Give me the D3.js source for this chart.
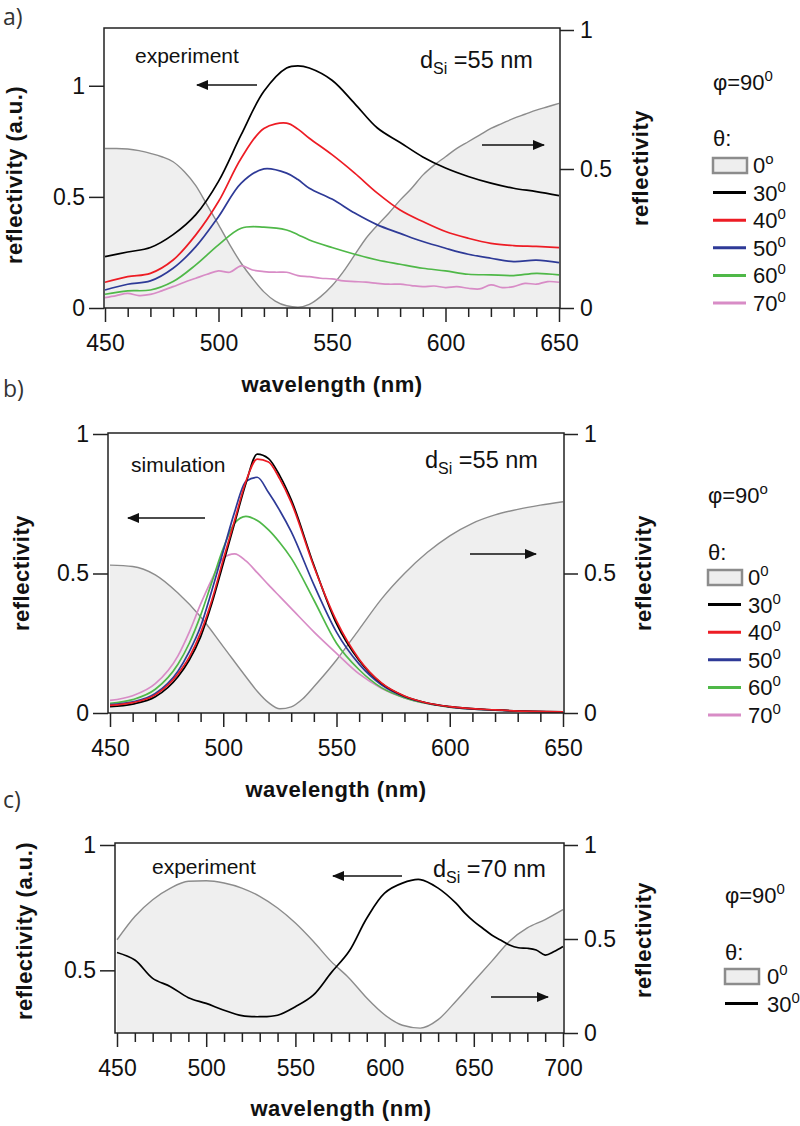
<!DOCTYPE html>
<html>
<head>
<meta charset="utf-8">
<script src="https://cdn.jsdelivr.net/npm/d3@7"></script>
<style>
  body { margin: 0; background: #fff; }
  svg text { font-family: "Liberation Sans", Arial, sans-serif; fill: #111; }
  .tick text { font-size: 23px; }
  .title { font-weight: bold; font-size: 22px; letter-spacing: 0.5px; }
  .plabel { font-family: "Open Sans", sans-serif !important; font-size: 23px; fill: #333 !important; }
</style>
</head>
<body>
<svg id="fig" width="800" height="1126"></svg>
<script>
// ---------- data ----------
var angleLabels = ["30", "40", "50", "60", "70"];
var angleColors = ["#000000", "#ed1c24", "#2e3a97", "#4fb848", "#d88cc6"];

// panel a) experiment, d_Si = 55 nm
var wlA = [450,460,470,480,490,500,510,520,530,535,540,550,560,570,580,590,600,610,620,630,640,650];
var expA30 = [0.231,0.252,0.272,0.33,0.42,0.57,0.78,0.975,1.08,1.09,1.08,1.025,0.92,0.81,0.745,0.68,0.63,0.592,0.562,0.539,0.524,0.506];
var expA40 = [0.116,0.141,0.156,0.216,0.329,0.479,0.674,0.808,0.832,0.805,0.764,0.69,0.607,0.517,0.441,0.389,0.344,0.314,0.291,0.281,0.277,0.272];
var expA50 = [0.081,0.107,0.122,0.179,0.276,0.411,0.562,0.626,0.607,0.578,0.539,0.49,0.427,0.374,0.336,0.299,0.269,0.242,0.224,0.209,0.215,0.204];
var expA60 = [0.062,0.077,0.081,0.119,0.194,0.284,0.359,0.364,0.351,0.33,0.306,0.272,0.242,0.216,0.197,0.179,0.167,0.152,0.149,0.146,0.156,0.149];
var wlA5 = [450,455,460,465,470,475,480,485,490,495,500,505,510,515,520,525,530,535,540,545,550,
            555,560,565,570,575,580,585,590,595,600,605,610,615,620,625,630,635,640,645,650];
var expA70 = [0.047,0.056,0.066,0.056,0.061,0.077,0.096,0.116,0.134,0.152,0.167,0.161,0.19,0.171,0.164,0.161,0.161,0.146,0.141,0.134,0.131,
              0.122,0.119,0.116,0.111,0.107,0.107,0.101,0.096,0.099,0.092,0.096,0.089,0.086,0.104,0.092,0.096,0.111,0.107,0.119,0.116];
var grayA = [0.574,0.574,0.572,0.566,0.556,0.544,0.526,0.49,0.44,0.37,0.30,0.227,0.161,0.106,0.058,0.025,0.008,0.003,0.013,0.041,0.08,
             0.131,0.191,0.251,0.298,0.341,0.388,0.43,0.478,0.514,0.544,0.574,0.598,0.622,0.646,0.664,0.682,0.697,0.712,0.724,0.736];

// panel b) simulation, d_Si = 55 nm
var wlB = [450,460,470,480,485,490,495,500,505,510,515,520,525,530,540,550,560,570,580,590,600,620,650];
var simB30 = [0.023,0.032,0.058,0.13,0.19,0.273,0.393,0.536,0.68,0.823,0.928,0.912,0.85,0.765,0.53,0.32,0.188,0.105,0.06,0.036,0.023,0.011,0.004];
var simB40 = [0.027,0.037,0.065,0.14,0.2,0.287,0.405,0.55,0.69,0.83,0.91,0.9,0.838,0.755,0.525,0.33,0.193,0.107,0.061,0.036,0.023,0.011,0.004];
var simB50 = [0.03,0.04,0.07,0.15,0.22,0.31,0.44,0.58,0.72,0.83,0.845,0.79,0.725,0.65,0.46,0.29,0.175,0.1,0.058,0.035,0.022,0.01,0.004];
var simB60 = [0.035,0.048,0.085,0.175,0.25,0.35,0.47,0.59,0.68,0.705,0.69,0.656,0.61,0.555,0.405,0.25,0.155,0.09,0.055,0.034,0.021,0.01,0.004];
var simB70 = [0.045,0.062,0.105,0.205,0.29,0.39,0.48,0.555,0.57,0.545,0.503,0.459,0.417,0.375,0.291,0.214,0.14,0.088,0.054,0.034,0.021,0.01,0.004];
var wlGrayB = [450,460,470,480,490,500,510,515,520,525,530,535,540,550,560,570,580,590,600,610,620,630,640,650];
var grayB = [0.53,0.525,0.495,0.43,0.345,0.238,0.13,0.078,0.037,0.015,0.022,0.05,0.094,0.19,0.3,0.41,0.5,0.575,0.635,0.68,0.71,0.73,0.745,0.757];

// panel c) experiment, d_Si = 70 nm
var wlC = [450,460,470,480,490,500,510,520,530,540,550,560,570,580,590,600,610,620,630,640,
           645,650,655,660,665,670,675,680,685,690,695,700];
var expC30 = [0.571,0.541,0.468,0.435,0.391,0.368,0.341,0.319,0.315,0.321,0.355,0.401,0.49,0.575,0.708,0.808,0.848,0.862,0.828,0.768,
              0.728,0.695,0.668,0.641,0.621,0.601,0.59,0.588,0.581,0.561,0.575,0.595];
var wlGrayC = [450,460,470,480,490,500,510,520,530,540,550,560,570,580,590,600,610,620,630,640,650,660,670,680,690,700];
var grayC = [0.496,0.62,0.709,0.771,0.807,0.81,0.798,0.771,0.727,0.665,0.585,0.488,0.381,0.293,0.186,0.097,0.041,0.026,0.071,0.169,0.275,0.381,0.488,0.559,0.603,0.656];

// ticks
var xMajor650 = [450,500,550,600,650];
var xMinor650 = [460,470,480,490,510,520,530,540,560,570,580,590,610,620,630,640];
var xMajor700 = [450,500,550,600,650,700];
var xMinor700 = [460,470,480,490,510,520,530,540,560,570,580,590,610,620,630,640,660,670,680,690];
var yTicksLeft = [0,0.5,1];
var yTicksLeftC = [0.5,1];
var yTicksRight = [0,0.5,1];

// ---------- figure ----------
var svg = d3.select("#fig");
svg.append("rect").attr("width", 800).attr("height", 1126).attr("fill", "#fff");

var defs = svg.append("defs");
defs.append("marker")
  .attr("id", "head")
  .attr("markerUnits", "userSpaceOnUse")
  .attr("markerWidth", 12).attr("markerHeight", 10)
  .attr("refX", 11).attr("refY", 5)
  .attr("orient", "auto")
  .append("path").attr("d", "M0,0 L12,5 L0,10 Z").attr("fill", "#111");

function seriesOf(wl, vals, idx) {
  return { wl: wl, v: vals, color: angleColors[idx] };
}

var panels = [
  {
    id: "a",
    frame: { x0: 104, x1: 560, y0: 28, y1: 308 },
    xDomain: [450, 650], xRange: [105, 559],
    yLDomain: [0, 1.26], yLRange: [308, 28],
    yRDomain: [0, 1], yRRange: [308, 30],
    xMajor: xMajor650, xMinor: xMinor650, yLTicks: yTicksLeft,
    curve: d3.curveCatmullRom,
    gray: { wl: wlA5, v: grayA },
    series: [seriesOf(wlA5, expA70, 4), seriesOf(wlA, expA60, 3), seriesOf(wlA, expA50, 2), seriesOf(wlA, expA40, 1), seriesOf(wlA, expA30, 0)],
    label: { x: 3, y: 25, t: "a)" },
    xTitle: { x: 332, y: 392 },
    yLTitle: { x: 22, y: 175, t: "reflectivity (a.u.)" },
    yRTitle: { x: 648, y: 168 },
    note: { x: 135, y: 63, t: "experiment" },
    dsi: { x: 420, y: 68, t: "55" },
    arrows: [{ x1: 257, x2: 197, y: 85 }, { x1: 482, x2: 544, y: 145 }],
    legend: { x: 713, tx: 753, phiY: 82, thetaY: 138, y0: 165, step: 27.6, phiSup: "0", zeroSup: "o", n: 5 }
  },
  {
    id: "b",
    frame: { x0: 108, x1: 564, y0: 433, y1: 713 },
    xDomain: [450, 650], xRange: [110, 563],
    yLDomain: [0, 1], yLRange: [713, 434],
    yRDomain: [0, 1], yRRange: [713, 434],
    xMajor: xMajor650, xMinor: xMinor650, yLTicks: yTicksLeft,
    curve: d3.curveMonotoneX,
    gray: { wl: wlGrayB, v: grayB },
    series: [seriesOf(wlB, simB70, 4), seriesOf(wlB, simB60, 3), seriesOf(wlB, simB50, 2), seriesOf(wlB, simB30, 0), seriesOf(wlB, simB40, 1)],
    label: { x: 3, y: 397, t: "b)" },
    xTitle: { x: 336, y: 797 },
    yLTitle: { x: 29, y: 573, t: "reflectivity" },
    yRTitle: { x: 651, y: 573 },
    note: { x: 131, y: 472, t: "simulation" },
    dsi: { x: 425, y: 468, t: "55" },
    arrows: [{ x1: 205, x2: 128, y: 518 }, { x1: 470, x2: 536, y: 554 }],
    legend: { x: 708, tx: 748, phiY: 495, thetaY: 552, y0: 577, step: 27.6, phiSup: "o", zeroSup: "0", n: 5 }
  },
  {
    id: "c",
    frame: { x0: 115, x1: 564, y0: 843, y1: 1033 },
    xDomain: [450, 700], xRange: [117, 563],
    yLDomain: [0.25, 1], yLRange: [1033, 845],
    yRDomain: [0, 1], yRRange: [1033, 845],
    xMajor: xMajor700, xMinor: xMinor700, yLTicks: yTicksLeftC,
    curve: d3.curveCatmullRom,
    gray: { wl: wlGrayC, v: grayC },
    series: [seriesOf(wlC, expC30, 0)],
    label: { x: 3, y: 808, t: "c)" },
    xTitle: { x: 341, y: 1116 },
    yLTitle: { x: 32, y: 931, t: "reflectivity (a.u.)" },
    yRTitle: { x: 651, y: 940 },
    note: { x: 152, y: 874, t: "experiment" },
    dsi: { x: 433, y: 877, t: "70" },
    arrows: [{ x1: 402, x2: 333, y: 876 }, { x1: 491, x2: 548, y: 997 }],
    legend: { x: 725, tx: 767, phiY: 895, thetaY: 952, y0: 976, step: 27.6, phiSup: "0", zeroSup: "0", n: 1 }
  }
];

panels.forEach(drawPanel);

function drawPanel(p) {
  var g = svg.append("g").attr("class", "panel-" + p.id);
  var f = p.frame;
  var x = d3.scaleLinear().domain(p.xDomain).range(p.xRange);
  var yL = d3.scaleLinear().domain(p.yLDomain).range(p.yLRange);
  var yR = d3.scaleLinear().domain(p.yRDomain).range(p.yRRange);

  defs.append("clipPath").attr("id", "clip-" + p.id)
    .append("rect").attr("x", f.x0).attr("y", f.y0)
    .attr("width", f.x1 - f.x0).attr("height", f.y1 - f.y0);

  var plot = g.append("g").attr("clip-path", "url(#clip-" + p.id + ")");

  // 0 deg curve (right axis) with light fill
  var grayArea = d3.area()
    .x(function(d, i) { return x(p.gray.wl[i]); })
    .y0(f.y1)
    .y1(function(d) { return yR(d); })
    .curve(d3.curveMonotoneX);
  var grayLine = d3.line()
    .x(function(d, i) { return x(p.gray.wl[i]); })
    .y(function(d) { return yR(d); })
    .curve(d3.curveMonotoneX);
  plot.append("path").datum(p.gray.v).attr("d", grayArea).attr("fill", "#efefef");
  plot.append("path").datum(p.gray.v).attr("d", grayLine)
    .attr("fill", "none").attr("stroke", "#8c8c8c").attr("stroke-width", 1.4);

  // angle curves (left axis)
  p.series.forEach(function(s) {
    var line = d3.line()
      .x(function(d, i) { return x(s.wl[i]); })
      .y(function(d) { return yL(d); })
      .curve(p.curve);
    plot.append("path").datum(s.v).attr("d", line)
      .attr("fill", "none").attr("stroke", s.color).attr("stroke-width", 1.7);
  });

  // frame
  g.append("rect").attr("x", f.x0).attr("y", f.y0)
    .attr("width", f.x1 - f.x0).attr("height", f.y1 - f.y0)
    .attr("fill", "none").attr("stroke", "#222").attr("stroke-width", 1.5);

  // axes
  var xAx = g.append("g").attr("transform", "translate(0," + f.y1 + ")")
    .call(d3.axisBottom(x).tickValues(p.xMajor).tickSize(14).tickSizeOuter(0).tickPadding(13).tickFormat(d3.format("d")));
  var xMin = g.append("g").attr("transform", "translate(0," + f.y1 + ")")
    .call(d3.axisBottom(x).tickValues(p.xMinor).tickSize(9).tickSizeOuter(0).tickFormat(""));
  var yAxL = g.append("g").attr("transform", "translate(" + f.x0 + ",0)")
    .call(d3.axisLeft(yL).tickValues(p.yLTicks).tickSize(15).tickSizeOuter(0).tickPadding(4).tickFormat(function(d) { return String(d); }));
  var yAxR = g.append("g").attr("transform", "translate(" + f.x1 + ",0)")
    .call(d3.axisRight(yR).tickValues(yTicksRight).tickSize(14).tickSizeOuter(0).tickPadding(6).tickFormat(function(d) { return String(d); }));
  [xAx, xMin, yAxL, yAxR].forEach(function(a) {
    a.select(".domain").remove();
    a.selectAll(".tick line").attr("stroke", "#222").attr("stroke-width", 1.5);
    a.selectAll(".tick text").attr("fill", "#111").style("font-size", "23px");
  });

  // titles
  g.append("text").attr("class", "title").attr("x", p.xTitle.x).attr("y", p.xTitle.y)
    .attr("text-anchor", "middle").text("wavelength (nm)");
  g.append("text").attr("class", "title").attr("text-anchor", "middle")
    .attr("transform", "translate(" + p.yLTitle.x + "," + p.yLTitle.y + ") rotate(-90)")
    .text(p.yLTitle.t);
  g.append("text").attr("class", "title").attr("text-anchor", "middle")
    .attr("transform", "translate(" + p.yRTitle.x + "," + p.yRTitle.y + ") rotate(-90)")
    .text("reflectivity");

  // panel letter
  g.append("text").attr("class", "plabel").attr("x", p.label.x).attr("y", p.label.y).text(p.label.t);

  // annotations
  g.append("text").attr("x", p.note.x).attr("y", p.note.y).style("font-size", "21px").text(p.note.t);
  var d = g.append("text").attr("x", p.dsi.x).attr("y", p.dsi.y).style("font-size", "23.5px");
  d.append("tspan").text("d");
  d.append("tspan").attr("dy", 6).style("font-size", "16px").text("Si");
  d.append("tspan").attr("dy", -6).text(" =" + p.dsi.t + " nm");

  p.arrows.forEach(function(a) {
    g.append("line").attr("x1", a.x1).attr("x2", a.x2).attr("y1", a.y).attr("y2", a.y)
      .attr("stroke", "#111").attr("stroke-width", 1.6).attr("marker-end", "url(#head)");
  });

  drawLegend(g, p.legend);
}

function supText(sel, main, sup) {
  sel.append("tspan").text(main);
  sel.append("tspan").attr("dy", -9).style("font-size", "15px").text(sup);
}

function drawLegend(g, L) {
  var phi = g.append("text").attr("x", L.x).attr("y", L.phiY + 8).style("font-size", "22px");
  supText(phi, "\u03c6=90", L.phiSup);
  g.append("text").attr("x", L.x).attr("y", L.thetaY + 8).style("font-size", "22px").text("\u03b8:");

  // 0 deg swatch
  g.append("rect").attr("x", L.x).attr("y", L.y0 - 7).attr("width", 34).attr("height", 15)
    .attr("fill", "#eeeeee").attr("stroke", "#8c8c8c").attr("stroke-width", 2.5);
  supText(g.append("text").attr("x", L.tx).attr("y", L.y0 + 8).style("font-size", "22px"), "0", L.zeroSup);

  for (var i = 0; i < L.n; i++) {
    var yy = L.y0 + L.step * (i + 1);
    g.append("line").attr("x1", L.x).attr("x2", L.x + 33).attr("y1", yy).attr("y2", yy)
      .attr("stroke", angleColors[i]).attr("stroke-width", 3);
    supText(g.append("text").attr("x", L.tx).attr("y", yy + 8).style("font-size", "22px"), angleLabels[i], "0");
  }
}
</script>
</body>
</html>
